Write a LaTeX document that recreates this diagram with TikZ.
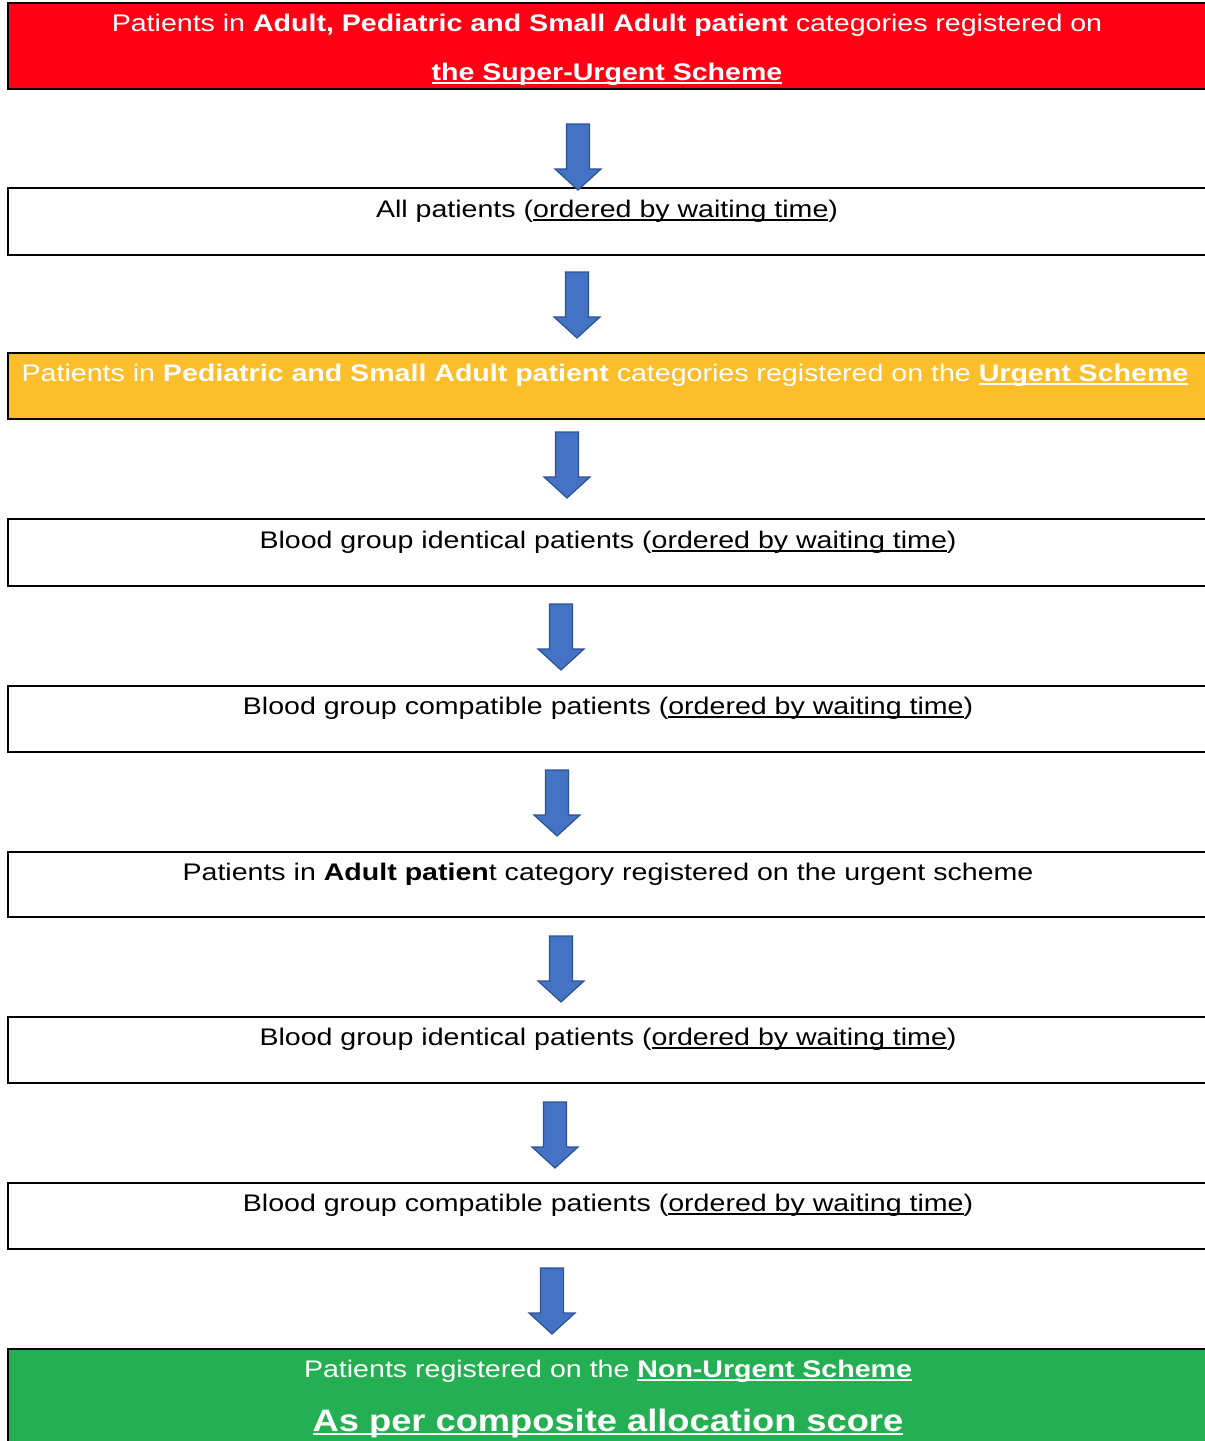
\documentclass[tikz,border=0pt]{standalone}
\usepackage{fontspec}
\setmainfont{Liberation Sans}[FakeStretch=1.19]
\newfontfamily\bigfont{Liberation Sans}[FakeStretch=1.17]
\definecolor{sred}{RGB}{255,0,20}
\definecolor{uorange}{RGB}{252,190,42}
\definecolor{ngreen}{RGB}{36,176,82}
\definecolor{arrfill}{RGB}{68,114,196}
\definecolor{arredge}{RGB}{47,82,143}
\newcommand\myul[1]{\setbox0\hbox{#1}\rlap{\rule[-3.6pt]{\wd0}{1.8pt}}\box0}
\tikzset{
  box/.style={draw=black, line width=1.5pt, minimum width=1207pt, inner sep=0pt},
  lbl/.style={anchor=base, inner sep=0pt, font=\fontsize{24}{28}\selectfont},
  biglbl/.style={anchor=base, inner sep=0pt, font=\bigfont\fontsize{31}{36}\selectfont},
  darr/.pic={\filldraw[fill=arrfill, draw=arredge, line width=1.2pt, line join=miter]
     (-11.5,0) -- (11.5,0) -- (11.5,45) -- (23,45) -- (0,66) -- (-23,45) -- (-11.5,45) -- cycle;}
}
\begin{document}
\begin{tikzpicture}[x=1pt,y=-1pt]
\useasboundingbox (0,0) rectangle (1205,1441);
\clip (0,0) rectangle (1205,1441);
% boxes
\node[box, fill=sred, minimum height=86pt] (b1) at (611.5,46) {};
\node[box, minimum height=67pt] (b2) at (611.5,221.5) {};
\node[box, fill=uorange, minimum height=66pt] (b3) at (611.5,386) {};
\node[box, minimum height=67pt] (b4) at (611.5,552.5) {};
\node[box, minimum height=66pt] (b5) at (611.5,719) {};
\node[box, minimum height=65pt] (b6) at (611.5,884.5) {};
\node[box, minimum height=66pt] (b7) at (611.5,1050) {};
\node[box, minimum height=66pt] (b8) at (611.5,1216) {};
\node[box, fill=ngreen, minimum height=111pt] (b9) at (611.5,1404.5) {};
% texts
\node[lbl, text=white] (t1a) at (607,31) {Patients in \textbf{Adult, Pediatric and Small Adult patient} categories registered on};
\node[lbl, text=white] (t1b) at (607,80) {\textbf{\myul{the Super-Urgent Scheme}}};
\node[lbl] (t2) at (607,217) {All patients (\myul{ordered by waiting time})};
\node[lbl, text=white] (t3) at (605,381) {Patients in \textbf{Pediatric and Small Adult patient} categories registered on the \textbf{\myul{Urgent Scheme}}};
\node[lbl] (t4) at (608,548) {Blood group identical patients (\myul{ordered by waiting time})};
\node[lbl] (t5) at (608,714) {Blood group compatible patients (\myul{ordered by waiting time})};
\node[lbl] (t6) at (608,880) {Patients in \textbf{Adult patien}t category registered on the urgent scheme};
\node[lbl] (t7) at (608,1045) {Blood group identical patients (\myul{ordered by waiting time})};
\node[lbl] (t8) at (608,1211) {Blood group compatible patients (\myul{ordered by waiting time})};
\node[lbl, text=white] (t9a) at (608,1377) {Patients registered on the \textbf{\myul{Non-Urgent Scheme}}};
\node[biglbl, text=white] (t9b) at (608,1431) {\textbf{\myul{As per composite allocation score}}};
% arrows
\pic at (578,124) {darr};
\pic at (577,272) {darr};
\pic at (567,432) {darr};
\pic at (561,604) {darr};
\pic at (557,770) {darr};
\pic at (561,936) {darr};
\pic at (555,1102) {darr};
\pic at (552,1268) {darr};
\end{tikzpicture}
\end{document}
